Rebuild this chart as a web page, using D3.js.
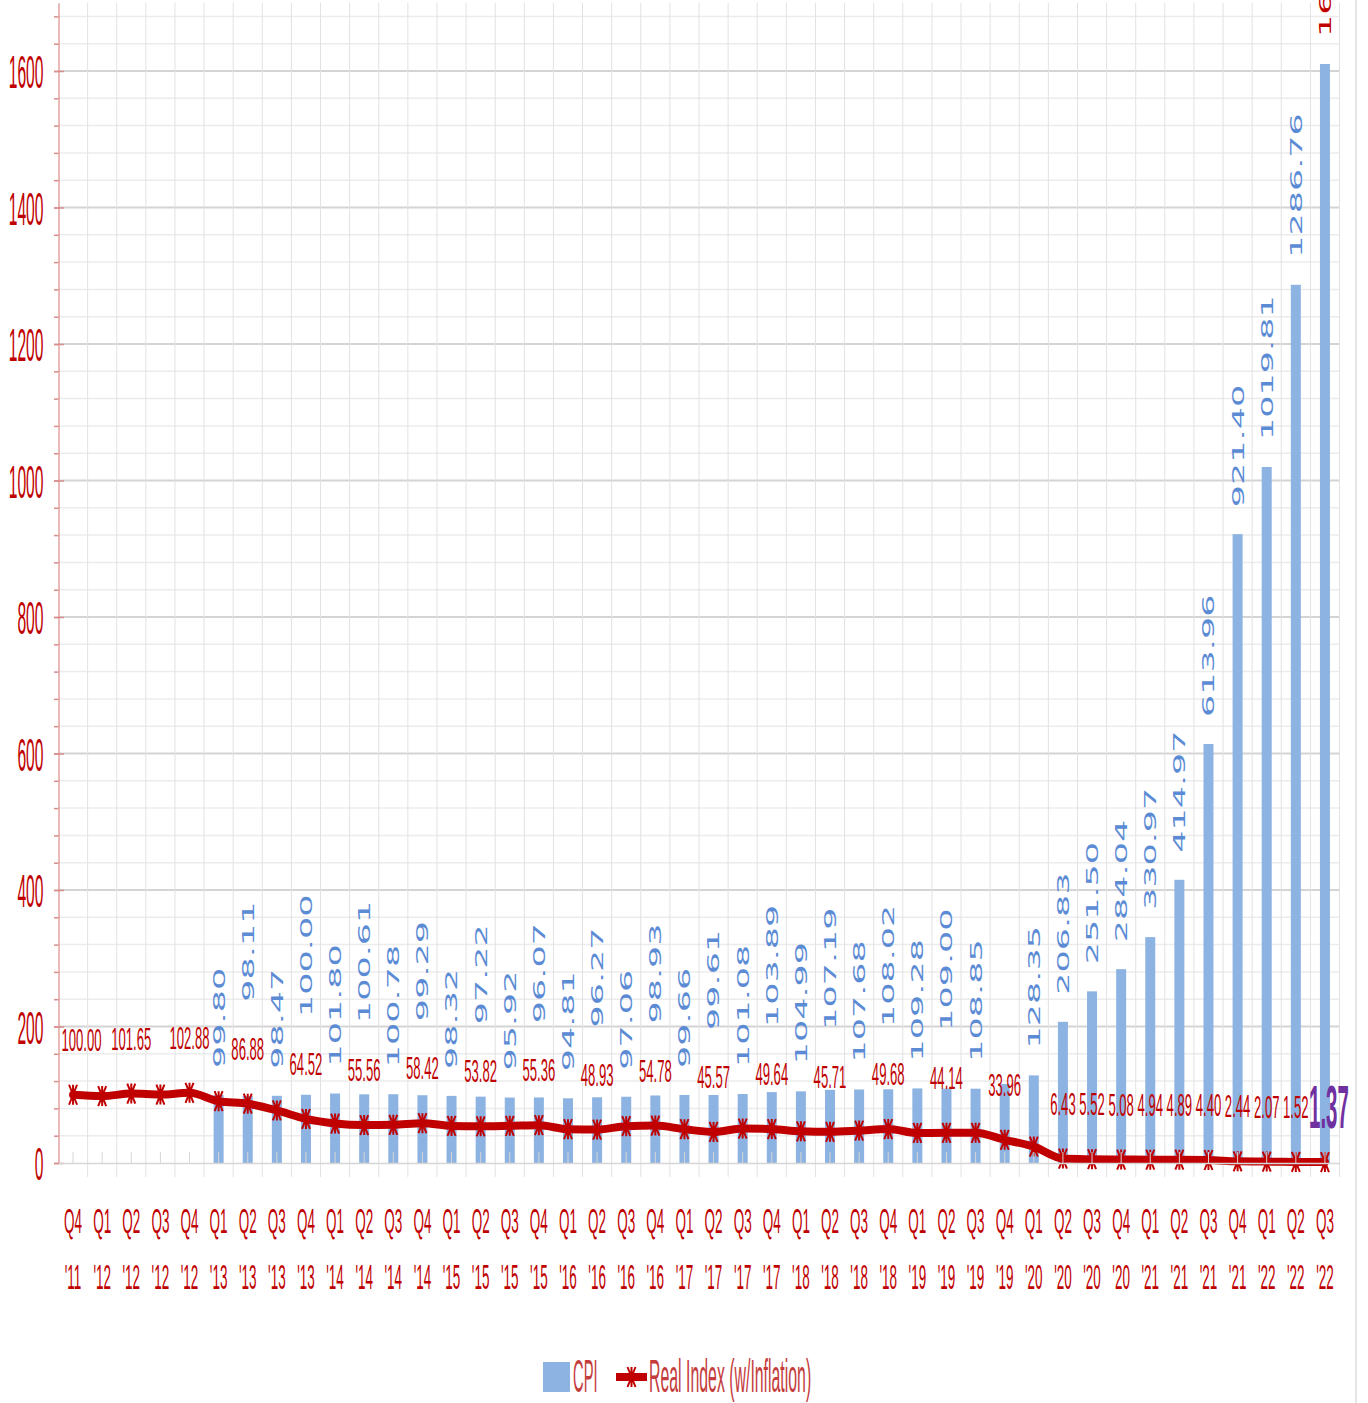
<!DOCTYPE html>
<html>
<head>
<meta charset="utf-8">
<script src="https://cdn.jsdelivr.net/npm/d3@7"></script>
<style>
  body { margin: 0; background: #fff; }
  svg { display: block; }
</style>
</head>
<body>
<div id="chart"></div>
<script>
// quarters on the x axis (two-line labels)
var quarters = ["Q4","Q1","Q2","Q3","Q4","Q1","Q2","Q3","Q4","Q1","Q2","Q3","Q4","Q1","Q2","Q3","Q4",
                "Q1","Q2","Q3","Q4","Q1","Q2","Q3","Q4","Q1","Q2","Q3","Q4","Q1","Q2","Q3","Q4",
                "Q1","Q2","Q3","Q4","Q1","Q2","Q3","Q4","Q1","Q2","Q3"];
var years = ["'11","'12","'12","'12","'12","'13","'13","'13","'13","'14","'14","'14","'14","'15","'15","'15","'15",
             "'16","'16","'16","'16","'17","'17","'17","'17","'18","'18","'18","'18","'19","'19","'19","'19",
             "'20","'20","'20","'20","'21","'21","'21","'21","'22","'22","'22"];

// CPI bars (no data before Q1 '13)
var cpi = [null, null, null, null, null,
           99.80, 98.11, 98.47, 100.00, 101.80, 100.61, 100.78, 99.29, 98.32, 97.22, 95.92, 96.07,
           94.81, 96.27, 97.06, 98.93, 99.66, 99.61, 101.08, 103.89, 104.99, 107.19, 107.68, 108.02,
           109.28, 109.00, 108.85, 115.6, 128.35, 206.83, 251.50, 284.04, 330.97, 414.97, 613.96,
           921.40, 1019.81, 1286.76, 1610.27];

// Real index line (w/ inflation)
var realIndex = [100.00, 98.0, 101.65, 100.3, 102.88, 90.5, 86.88, 77.0, 64.52, 57.8, 55.56, 56.0, 58.42,
                 54.3, 53.82, 54.5, 55.36, 49.5, 48.93, 54.0, 54.78, 49.5, 45.57, 50.5, 49.64, 46.5, 45.71,
                 47.5, 49.68, 44.0, 44.14, 44.3, 33.96, 24.0, 6.43, 5.52, 5.08, 4.94, 4.89, 4.40, 2.44,
                 2.07, 1.52, 1.37];

var cpiLabelHidden = ["Q4 '19"];
var yTicks = [0, 200, 400, 600, 800, 1000, 1200, 1400, 1600];
var seriesNames = ["CPI", "Real Index (w/Inflation)"];

var barColor = "#8db3e2",
    barLabelColor = "#5b8bd4",
    lineColor = "#c00000",
    axisTextColor = "#c00000",
    legendTextColor = "#c43c3c";

var width = 1368, height = 1403;
var plotLeft = 58.5, plotRight = 1339.5, plotBottom = 1163;

var svg = d3.select("#chart").append("svg")
    .attr("width", width)
    .attr("height", height);

var cats = quarters.map(function(q, i){ return q + " " + years[i]; });
var rows = cats.map(function(c, i){
    return {cat: c, q: quarters[i], yr: years[i], cpi: cpi[i], real: realIndex[i], i: i};
});

var x = d3.scaleBand().domain(cats).range([plotLeft, plotRight]);
var bw = x.bandwidth();
var y = d3.scaleLinear().domain([0, 1700]).range([plotBottom, plotBottom - 1700 * 0.6825]);

function cx(d){ return x(d.cat) + bw / 2; }

// squeezed horizontal text
function sText(g, tx, ty, str, size, k, color, anchor, weight){
    return g.append("text")
        .attr("transform", "translate(" + tx + "," + ty + ") scale(" + k + ",1)")
        .attr("text-anchor", anchor || "middle")
        .attr("font-family", "'Liberation Sans', Arial, sans-serif")
        .attr("font-size", size)
        .attr("font-weight", weight || "normal")
        .attr("fill", color)
        .text(str);
}

// gridlines
var grid = svg.append("g");
grid.selectAll(".minor")
    .data(d3.range(40, 1700, 40).filter(function(v){ return v % 200 !== 0; }))
    .enter().append("line")
    .attr("x1", plotLeft).attr("x2", plotRight)
    .attr("y1", function(d){ return y(d); }).attr("y2", function(d){ return y(d); })
    .attr("stroke", "#ececec").attr("stroke-width", 1.5);
grid.selectAll(".major")
    .data(yTicks.slice(1))
    .enter().append("line")
    .attr("x1", plotLeft).attr("x2", plotRight)
    .attr("y1", function(d){ return y(d); }).attr("y2", function(d){ return y(d); })
    .attr("stroke", "#d4d4d4").attr("stroke-width", 2);
grid.selectAll(".vert")
    .data(cats)
    .enter().append("line")
    .attr("x1", function(d){ return x(d) + bw; }).attr("x2", function(d){ return x(d) + bw; })
    .attr("y1", y(1700)).attr("y2", plotBottom + 14)
    .attr("stroke", "#e2e2e2").attr("stroke-width", 1);
// chart border on the right
svg.append("line")
    .attr("x1", 1356).attr("x2", 1356).attr("y1", 0).attr("y2", height)
    .attr("stroke", "#dcdcdc").attr("stroke-width", 1.5);

// bars
var barRows = rows.filter(function(d){ return d.cpi != null; });
var barW = 10;
svg.append("g").selectAll("rect")
    .data(barRows)
    .enter().append("rect")
    .attr("x", function(d){ return cx(d) - barW / 2; })
    .attr("y", function(d){ return y(d.cpi); })
    .attr("width", barW)
    .attr("height", function(d){ return plotBottom - y(d.cpi); })
    .attr("fill", barColor);

// which points carry a red label
function realLabelShown(i){ return i % 2 === 0 || i >= 34; }

// bar labels (rotated)
var lastIdx = rows.length - 1;
svg.append("g").selectAll("text")
    .data(barRows.filter(function(d){ return cpiLabelHidden.indexOf(d.cat) < 0; }))
    .enter().append("text")
    .attr("transform", function(d){
        var bottom = y(d.cpi) - 27;
        if (realLabelShown(d.i) && d.i < 34) bottom = Math.min(bottom, y(d.real) - 102);
        return "translate(" + cx(d) + "," + bottom + ") rotate(-90) scale(1,0.47)";
    })
    .attr("dy", "0.36em")
    .attr("text-anchor", "start")
    .attr("font-family", "'DejaVu Sans', Verdana, sans-serif")
    .attr("font-size", 35)
    .attr("fill", function(d){ return d.i === lastIdx ? lineColor : barLabelColor; })
    .text(function(d){ return d.cpi.toFixed(2); });

// real index line
var line = d3.line()
    .x(cx)
    .y(function(d){ return y(d.real); })
    .curve(d3.curveMonotoneX);
svg.append("path")
    .datum(rows)
    .attr("d", line)
    .attr("fill", "none")
    .attr("stroke", lineColor)
    .attr("stroke-width", 8)
    .attr("stroke-linejoin", "round")
    .attr("stroke-linecap", "round");

var star = "M-4,-10L4,10M4,-10L-4,10M0,-10L0,10";
svg.append("g").selectAll("path")
    .data(rows)
    .enter().append("path")
    .attr("transform", function(d){ return "translate(" + cx(d) + "," + y(d.real) + ")"; })
    .attr("d", star)
    .attr("fill", "none")
    .attr("stroke", lineColor)
    .attr("stroke-width", 2);

// real index labels
var lblG = svg.append("g");
rows.forEach(function(d){
    if (!realLabelShown(d.i)) return;
    if (d.i === lastIdx) {
        sText(lblG, cx(d) + 4, y(d.real) - 34, d.real.toFixed(2), 62, 0.33, "#7030a0", "middle", "bold");
        return;
    }
    var k = 0.41;
    var t = sText(lblG, cx(d), y(d.real) - 44, d.real.toFixed(2), 32, k, lineColor, "middle");
    var half = t.node().getComputedTextLength() * k / 2;
    var px = Math.max(cx(d), plotLeft + half + 3);
    t.attr("transform", "translate(" + px + "," + (y(d.real) - 44) + ") scale(" + k + ",1)");
});

// y axis: minor ticks + line
var axisColor = "#d98c8c";
var yMinor = svg.append("g")
    .attr("transform", "translate(" + plotLeft + ",0)")
    .call(d3.axisLeft(y).tickValues(d3.range(0, 1700, 40)).tickSize(4.5).tickSizeOuter(0).tickFormat(""));
yMinor.select(".domain").attr("stroke", axisColor).attr("stroke-width", 1.2);
yMinor.selectAll(".tick line").attr("stroke", axisColor).attr("stroke-width", 1.5);

// y axis: major ticks + labels
var yk = 0.34;
var yMajor = svg.append("g")
    .attr("transform", "translate(" + plotLeft + ",0)")
    .call(d3.axisLeft(y).tickValues(yTicks).tickSizeInner(-5.5).tickSizeOuter(0).tickFormat(d3.format("d")));
yMajor.select(".domain").remove();
yMajor.selectAll(".tick line")
    .attr("x1", -4.5)
    .attr("stroke", axisColor).attr("stroke-width", 1.5);
yMajor.selectAll(".tick text")
    .attr("x", -15 / yk)
    .attr("dy", "0.36em")
    .attr("transform", "scale(" + yk + ",1)")
    .attr("text-anchor", "end")
    .attr("font-family", "'Liberation Sans', Arial, sans-serif")
    .attr("font-size", 46)
    .attr("fill", axisTextColor);

// x axis
var xAxisG = svg.append("g")
    .attr("transform", "translate(0," + plotBottom + ")")
    .call(d3.axisBottom(x).tickSizeInner(-11).tickSizeOuter(0).tickFormat(""));
xAxisG.select(".domain").attr("stroke", "#d6d6d6").attr("stroke-width", 1.5);
xAxisG.selectAll(".tick line").attr("stroke", "#d6d6d6").attr("stroke-width", 1);
xAxisG.selectAll(".tick text").remove();
xAxisG.selectAll(".tick").each(function(c, i){
    var g = d3.select(this);
    sText(g, 0, 70, quarters[i], 36, 0.375, axisTextColor, "middle");
    sText(g, 0, 126, years[i], 36, 0.375, axisTextColor, "middle");
});

// legend
var leg = svg.append("g");
leg.append("rect")
    .attr("x", 543).attr("y", 1362).attr("width", 27).attr("height", 30)
    .attr("fill", barColor);
sText(leg, 573, 1392, seriesNames[0], 46, 0.32, legendTextColor, "start");
leg.append("line")
    .attr("x1", 616).attr("x2", 647).attr("y1", 1377).attr("y2", 1377)
    .attr("stroke", lineColor).attr("stroke-width", 8);
leg.append("path")
    .attr("transform", "translate(631.5,1377)")
    .attr("d", star)
    .attr("fill", "none").attr("stroke", lineColor).attr("stroke-width", 2);
sText(leg, 649, 1392, seriesNames[1], 46, 0.345, legendTextColor, "start");
</script>
</body>
</html>
